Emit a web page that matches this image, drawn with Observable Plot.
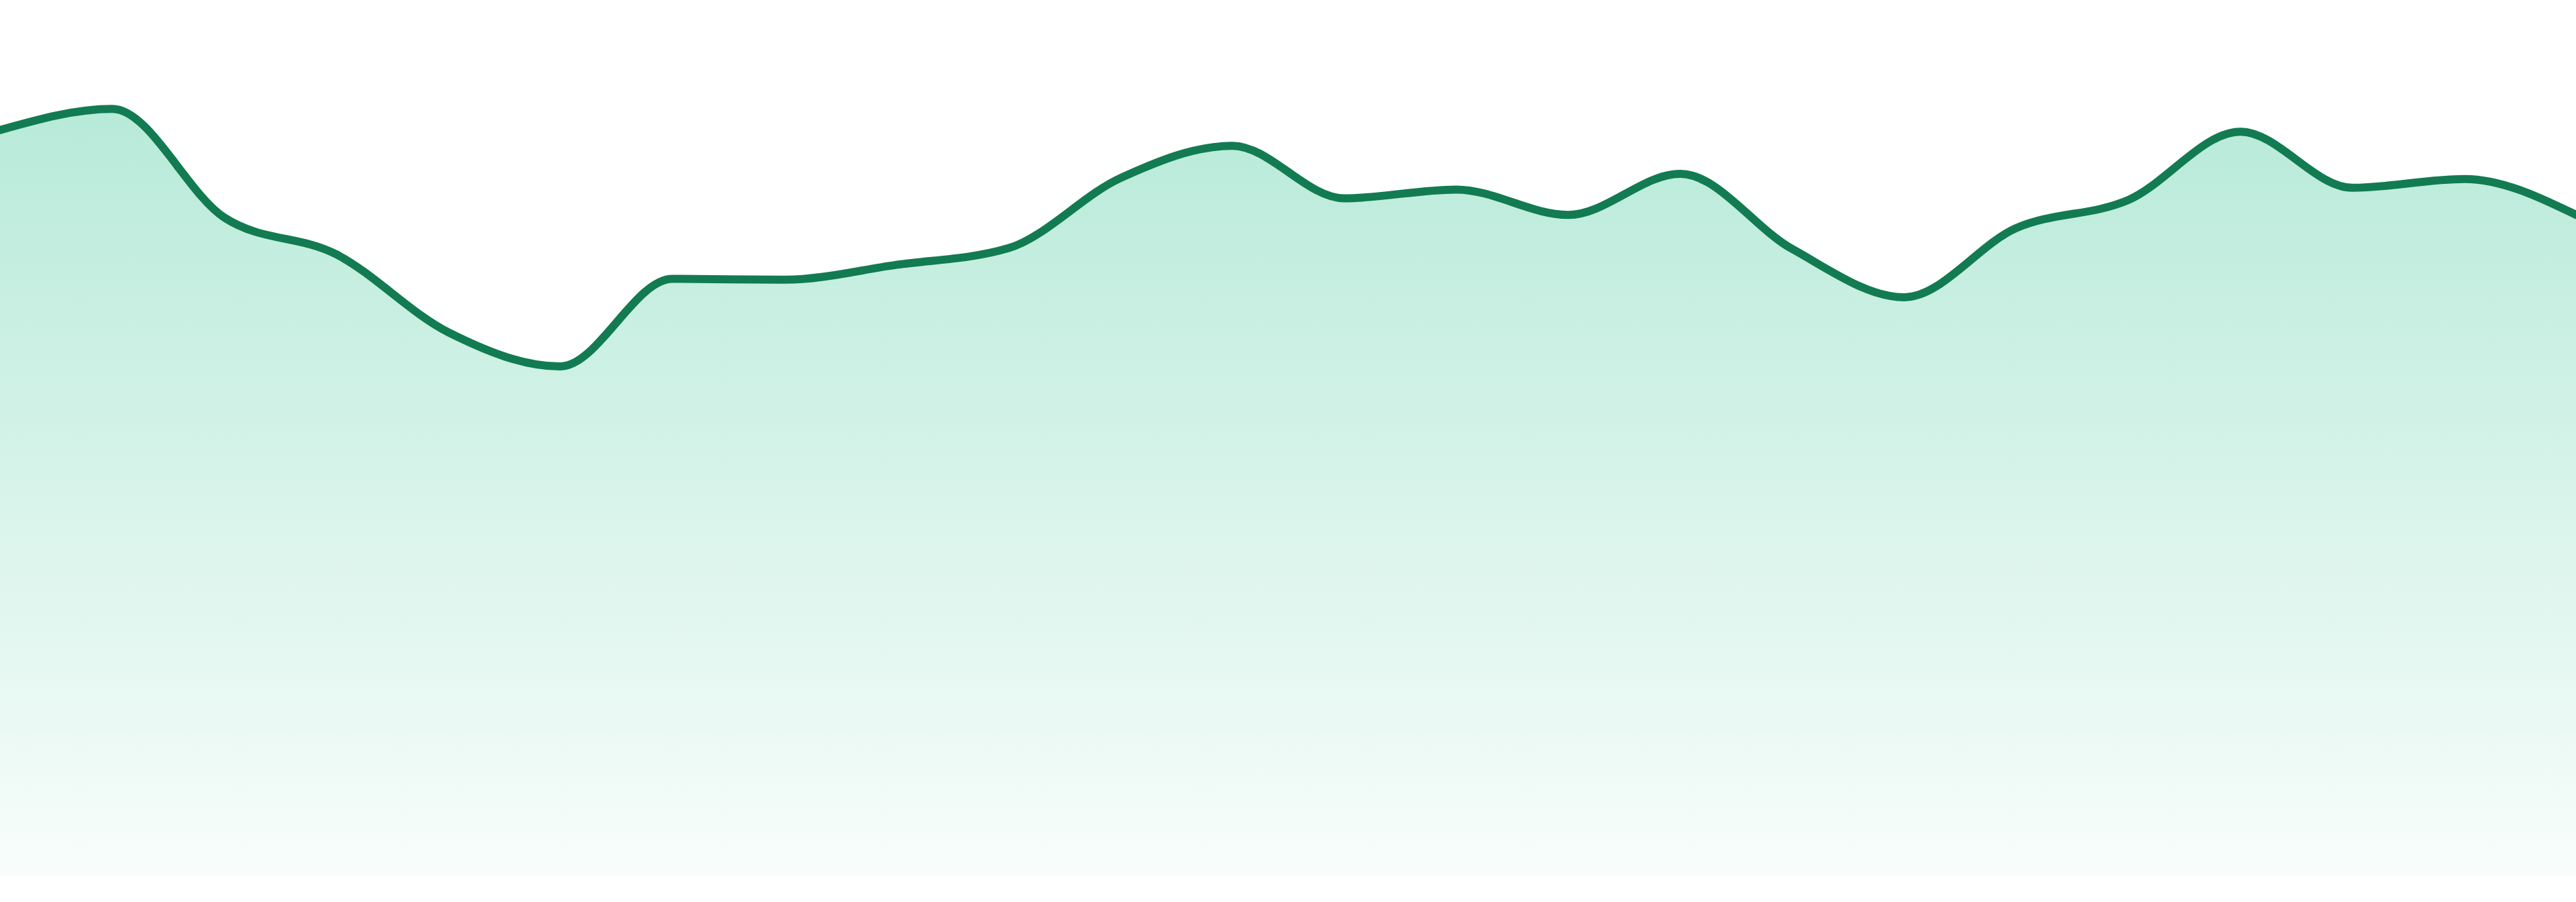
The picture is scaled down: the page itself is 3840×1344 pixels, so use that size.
<!DOCTYPE html>
<html>
<head>
<meta charset="utf-8">
<script src="https://cdn.jsdelivr.net/npm/d3@7"></script>
<script src="https://cdn.jsdelivr.net/npm/@observablehq/plot@0.6"></script>
<style>
  html, body { margin: 0; padding: 0; background: #ffffff; }
  #chart svg { display: block; }
</style>
</head>
<body>
<div id="chart"></div>
<script>
const hours = [0, 1, 2, 3, 4, 5, 6, 7, 8, 9, 10, 11, 12, 13, 14, 15, 16, 17, 18, 19, 20, 21, 22, 23];
const values = [85.2, 87.6, 75.2, 71.0, 62.1, 58.2, 68.2, 68.1, 69.8, 71.7, 79.7, 83.4,
                77.4, 78.4, 75.5, 80.2, 71.6, 66.1, 74.0, 77.2, 85.0, 78.6, 79.6, 75.5];

const data = hours.map((h, i) => ({hour: h, value: values[i]}));

const lineColor = "#127b52";
const fillColor = "#10b981";

function gradientDefs() {
  const ns = "http://www.w3.org/2000/svg";
  const defs = document.createElementNS(ns, "defs");
  const grad = document.createElementNS(ns, "linearGradient");
  grad.setAttribute("id", "areaGradient");
  grad.setAttribute("x1", "0");
  grad.setAttribute("y1", "0");
  grad.setAttribute("x2", "0");
  grad.setAttribute("y2", "1");
  const stops = [[0, 0.30], [1, 0.03]];
  for (const [off, op] of stops) {
    const s = document.createElementNS(ns, "stop");
    s.setAttribute("offset", off);
    s.setAttribute("stop-color", fillColor);
    s.setAttribute("stop-opacity", op);
    grad.appendChild(s);
  }
  defs.appendChild(grad);
  return defs;
}

const chart = Plot.plot({
  width: 3840,
  height: 1344,
  marginTop: 0,
  marginRight: 0,
  marginLeft: 0,
  marginBottom: 39,
  x: {domain: [0, 23], axis: null},
  y: {domain: [0, 100], axis: null},
  marks: [
    gradientDefs,
    Plot.areaY(data, {x: "hour", y: "value", curve: "monotone-x", fill: "url(#areaGradient)"}),
    Plot.lineY(data, {x: "hour", y: "value", curve: "monotone-x", stroke: lineColor, strokeWidth: 12})
  ]
});

document.getElementById("chart").appendChild(chart);
</script>
</body>
</html>
